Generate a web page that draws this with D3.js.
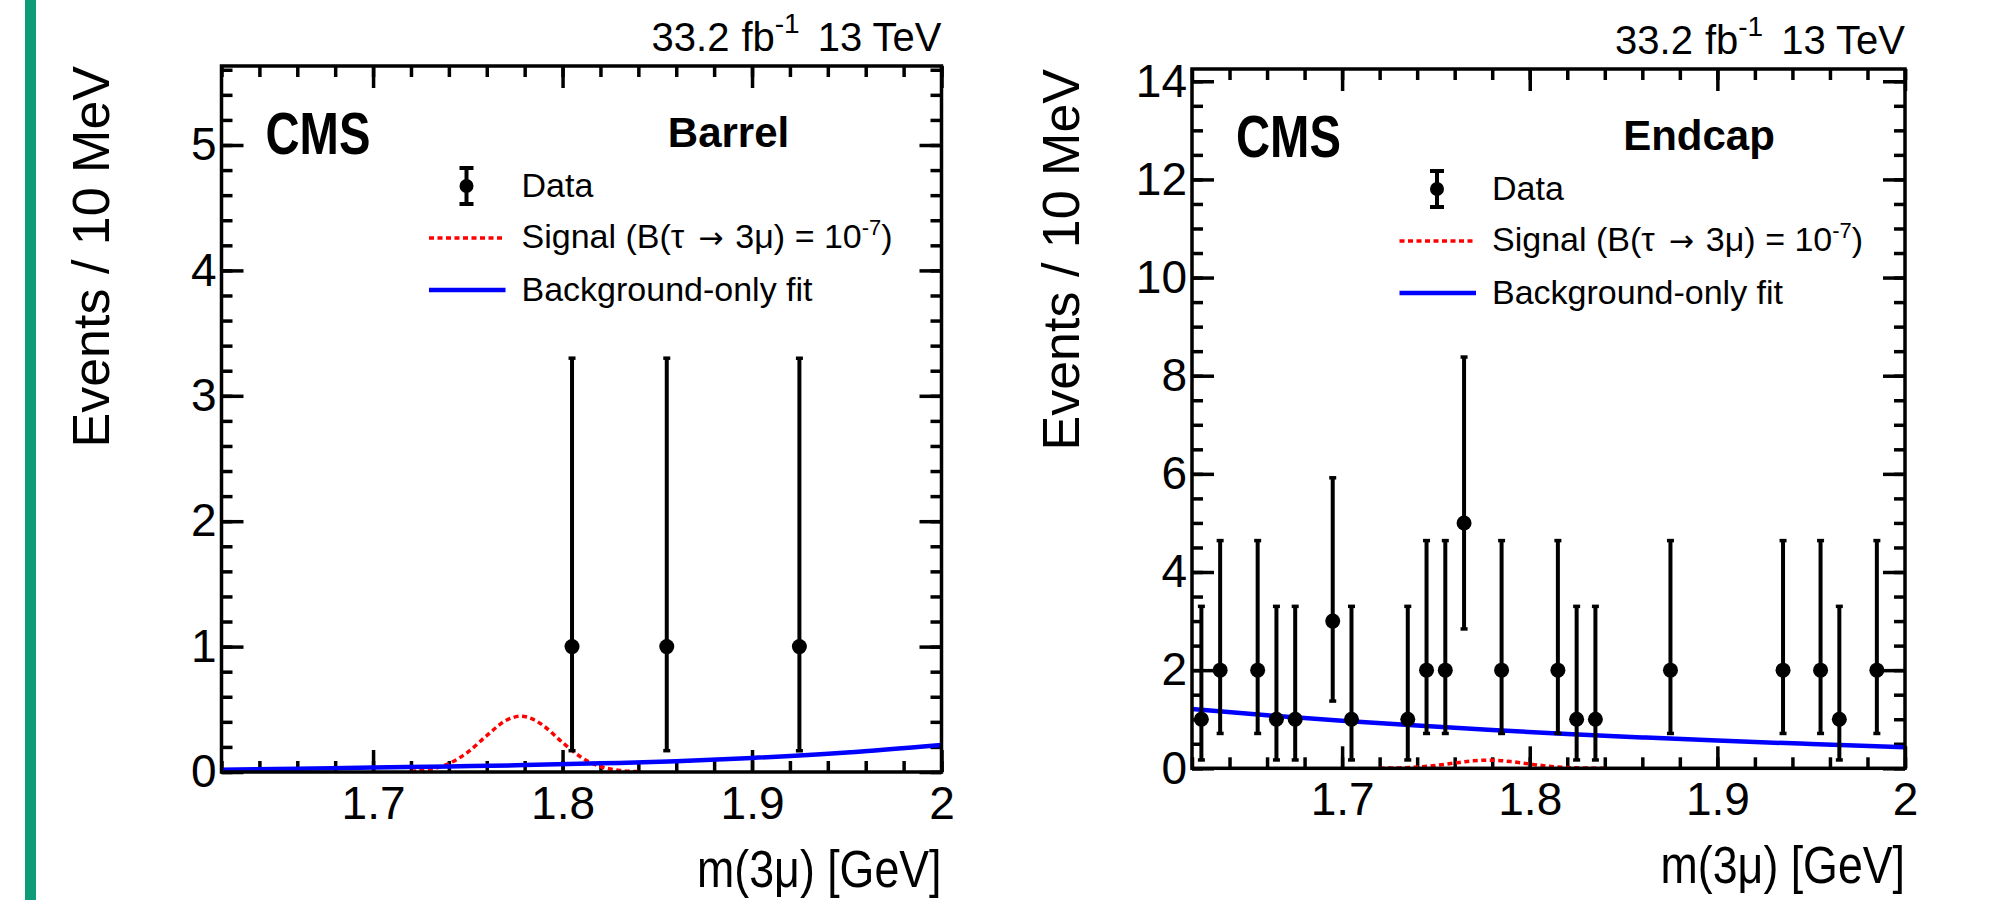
<!DOCTYPE html>
<html lang="en">
<head>
<meta charset="UTF-8">
<title>tau to 3mu mass fits</title>
<style>
  body { margin: 0; background: #fff; }
  text { font-family: "Liberation Sans", Arial, Helvetica, sans-serif; fill: #000; }
</style>
</head>
<body>
<div id="chart"></div>
<script src="https://d3js.org/d3.v7.min.js"></script>
<script>
// ---- data ----
const xDomain = [1.62, 2.0];
const xTicks = [1.7, 1.8, 1.9, 2.0];
const xTickLabels = ["1.7", "1.8", "1.9", "2"];

const barrelYTicks = [0, 1, 2, 3, 4, 5];
const endcapYTicks = [0, 2, 4, 6, 8, 10, 12, 14];

// barrel data points
const barrelMass = [1.805, 1.855, 1.925];
const barrelCounts = [1, 1, 1];
const barrelLow = [0.17, 0.17, 0.17];
const barrelHigh = [3.3, 3.3, 3.3];

// endcap data points
const endcapMass = [1.625, 1.635, 1.655, 1.665, 1.675, 1.695, 1.705, 1.735, 1.745, 1.755,
                    1.765, 1.785, 1.815, 1.825, 1.835, 1.875, 1.935, 1.955, 1.965, 1.985];
const endcapCounts = [1, 2, 2, 1, 1, 3, 1, 1, 2, 2, 5, 2, 2, 1, 1, 2, 2, 2, 1, 2];
const endcapLow  = [0.17, 0.71, 0.71, 0.17, 0.17, 1.37, 0.17, 0.17, 0.71, 0.71,
                    2.84, 0.71, 0.71, 0.17, 0.17, 0.71, 0.71, 0.71, 0.17, 0.71];
const endcapHigh = [3.3, 4.64, 4.64, 3.3, 3.3, 5.92, 3.3, 3.3, 4.64, 4.64,
                    8.38, 4.64, 4.64, 3.3, 3.3, 4.64, 4.64, 4.64, 3.3, 4.64];

// signal shape (B = 1e-7)
const signalMass   = [1.72, 1.73, 1.74, 1.75, 1.76, 1.77, 1.778, 1.785, 1.79, 1.80, 1.81, 1.82, 1.83, 1.84];
const barrelSignal = [0.005, 0.021, 0.067, 0.159, 0.29, 0.41, 0.445, 0.417, 0.368, 0.235, 0.116, 0.044, 0.013, 0.003];
const endcapSignal = [0.002, 0.008, 0.025, 0.059, 0.108, 0.152, 0.165, 0.155, 0.137, 0.087, 0.043, 0.016, 0.005, 0.001];

// background-only fit
const bkgMass   = [1.62, 1.66, 1.70, 1.74, 1.78, 1.82, 1.86, 1.90, 1.95, 2.0];
const barrelBkg = [0.018, 0.025, 0.035, 0.044, 0.055, 0.069, 0.086, 0.112, 0.155, 0.215];
const endcapBkg = [1.21, 1.08, 0.97, 0.87, 0.78, 0.70, 0.63, 0.565, 0.495, 0.43];

const lumiText = ["33.2", "fb", "-1", "13 TeV"];
const legendLabels = ["Data", "Signal (B(\u03c4", "\u2192", "3\u03bc) = 10", "Background-only fit"];

// ---- drawing ----
const width = 1990, height = 900;
const svg = d3.select("#chart").append("svg")
    .attr("width", width).attr("height", height);

svg.append("rect").attr("x", 25).attr("y", 0).attr("width", 11).attr("height", height)
    .attr("fill", "#0e9b77");

const panels = [
  { id: "barrel", title: "Barrel", left: 221.5, right: 941.5, top: 66, bottom: 772,
    yMax: 5.63, yTicks: barrelYTicks, yMinor: 0.2,
    mass: barrelMass, counts: barrelCounts, low: barrelLow, high: barrelHigh,
    signal: barrelSignal, bkg: barrelBkg },
  { id: "endcap", title: "Endcap", left: 1192, right: 1905, top: 69, bottom: 768.3,
    yMax: 14.25, yTicks: endcapYTicks, yMinor: 0.5,
    mass: endcapMass, counts: endcapCounts, low: endcapLow, high: endcapHigh,
    signal: endcapSignal, bkg: endcapBkg }
];

panels.forEach(drawPanel);

function drawPanel(p) {
  const x = d3.scaleLinear().domain(xDomain).range([p.left, p.right]);
  const y = d3.scaleLinear().domain([0, p.yMax]).range([p.bottom, p.top]);
  const g = svg.append("g");

  const xMinor = d3.range(1.62, 2.0001, 0.02).map(v => +v.toFixed(2));
  const yMinor = d3.range(0, p.yMax, p.yMinor).map(v => +v.toFixed(2));
  const fmt = d => xTickLabels[xTicks.indexOf(d)];

  // axes, ticks pointing inwards (ROOT style), mirrored on top and right
  const axes = [
    [d3.axisBottom(x).tickValues(xTicks).tickSize(-22).tickPadding(14).tickFormat(fmt), `translate(0,${p.bottom})`],
    [d3.axisBottom(x).tickValues(xMinor).tickSize(-11).tickFormat(""), `translate(0,${p.bottom})`],
    [d3.axisTop(x).tickValues(xTicks).tickSize(-22).tickFormat(""), `translate(0,${p.top})`],
    [d3.axisTop(x).tickValues(xMinor).tickSize(-11).tickFormat(""), `translate(0,${p.top})`],
    [d3.axisLeft(y).tickValues(p.yTicks).tickSize(-22).tickPadding(5).tickFormat(d3.format("d")), `translate(${p.left},0)`],
    [d3.axisLeft(y).tickValues(yMinor).tickSize(-11).tickFormat(""), `translate(${p.left},0)`],
    [d3.axisRight(y).tickValues(p.yTicks).tickSize(-22).tickFormat(""), `translate(${p.right},0)`],
    [d3.axisRight(y).tickValues(yMinor).tickSize(-11).tickFormat(""), `translate(${p.right},0)`]
  ];
  axes.forEach(([ax, tr]) => {
    const a = g.append("g").attr("transform", tr).call(ax);
    a.select(".domain").remove();
    a.selectAll("line").attr("stroke", "#000").attr("stroke-width", 3.5);
    a.selectAll("text").style("font-size", "46px").attr("fill", "#000")
      .style("font-family", '"Liberation Sans", Arial, sans-serif');
  });

  // clip to frame
  const clipId = "clip-" + p.id;
  svg.append("clipPath").attr("id", clipId).append("rect")
    .attr("x", p.left).attr("y", p.top)
    .attr("width", p.right - p.left).attr("height", p.bottom - p.top);
  const plot = g.append("g").attr("clip-path", `url(#${clipId})`);

  const line = d3.line().x(d => x(d[0])).y(d => y(d[1])).curve(d3.curveMonotoneX);

  plot.append("path").datum(signalMass.map((m, i) => [m, p.signal[i]]))
    .attr("d", line).attr("fill", "none").attr("stroke", "#ff0000")
    .attr("stroke-width", 3.5).attr("stroke-dasharray", "5,3.5");

  plot.append("path").datum(bkgMass.map((m, i) => [m, p.bkg[i]]))
    .attr("d", line).attr("fill", "none").attr("stroke", "#0000ff")
    .attr("stroke-width", 4.5);

  const pts = p.mass.map((m, i) => ({ m, n: p.counts[i], lo: p.low[i], hi: p.high[i] }));
  const pg = plot.selectAll("g.pt").data(pts).join("g").attr("class", "pt");
  pg.append("line").attr("x1", d => x(d.m)).attr("x2", d => x(d.m))
    .attr("y1", d => y(d.lo)).attr("y2", d => y(d.hi))
    .attr("stroke", "#000").attr("stroke-width", 4);
  ["lo", "hi"].forEach(k => {
    pg.append("line").attr("x1", d => x(d.m) - 3.5).attr("x2", d => x(d.m) + 3.5)
      .attr("y1", d => y(d[k])).attr("y2", d => y(d[k]))
      .attr("stroke", "#000").attr("stroke-width", 3.5);
  });
  pg.append("circle").attr("cx", d => x(d.m)).attr("cy", d => y(d.n)).attr("r", 7.5).attr("fill", "#000");

  // frame
  g.append("rect").attr("x", p.left).attr("y", p.top)
    .attr("width", p.right - p.left).attr("height", p.bottom - p.top)
    .attr("fill", "none").attr("stroke", "#000").attr("stroke-width", 3.5);

  // texts
  const lumi = g.append("text").attr("x", p.right).attr("y", p.top - 15)
    .attr("text-anchor", "end").style("font-size", "40px");
  lumi.append("tspan").text(lumiText[0]);
  lumi.append("tspan").attr("dx", 12).text(lumiText[1]);
  lumi.append("tspan").attr("dy", -18).style("font-size", "28px").text(lumiText[2]);
  lumi.append("tspan").attr("dy", 18).attr("dx", 18).text(lumiText[3]);

  g.append("text").attr("transform", `translate(${p.left + 44},${p.top + 88}) scale(0.8,1)`)
    .style("font-size", "59px").style("font-weight", "bold").text("CMS");
  g.append("text").attr("x", p.left + 507).attr("y", p.top + 81).attr("text-anchor", "middle")
    .style("font-size", "42px").style("font-weight", "bold").text(p.title);

  g.append("text").attr("transform", `translate(${p.left - 113},${p.top}) rotate(-90)`)
    .attr("text-anchor", "end").style("font-size", "52px").text("Events / 10 MeV");
  g.append("text").attr("transform", `translate(${p.right},${p.bottom + 115}) scale(0.86,1)`)
    .attr("text-anchor", "end").style("font-size", "52px").text("m(3\u03bc) [GeV]");

  // legend
  const lx = p.left + 207.5, lx2 = p.left + 284, mx = p.left + 245, tx = p.left + 300;
  const base = [p.top + 131, p.top + 182, p.top + 235];
  const lg = g.append("g");
  lg.append("line").attr("x1", mx).attr("x2", mx).attr("y1", base[0] - 29).attr("y2", base[0] + 7)
    .attr("stroke", "#000").attr("stroke-width", 4);
  [base[0] - 29, base[0] + 7].forEach(yy => lg.append("line").attr("x1", mx - 7).attr("x2", mx + 7)
    .attr("y1", yy).attr("y2", yy).attr("stroke", "#000").attr("stroke-width", 4));
  lg.append("circle").attr("cx", mx).attr("cy", base[0] - 11).attr("r", 7).attr("fill", "#000");
  lg.append("line").attr("x1", lx).attr("x2", lx2).attr("y1", base[1] - 10).attr("y2", base[1] - 10)
    .attr("stroke", "#ff0000").attr("stroke-width", 3.5).attr("stroke-dasharray", "5,3.5");
  lg.append("line").attr("x1", lx).attr("x2", lx2).attr("y1", base[2] - 11).attr("y2", base[2] - 11)
    .attr("stroke", "#0000ff").attr("stroke-width", 4.5);

  lg.append("text").attr("x", tx).attr("y", base[0]).style("font-size", "34px").text(legendLabels[0]);
  const sig = lg.append("text").attr("x", tx).attr("y", base[1]).style("font-size", "34px");
  sig.append("tspan").text(legendLabels[1]);
  sig.append("tspan").attr("dx", 14).style("font-family", '"DejaVu Sans", sans-serif').style("font-size", "30px")
    .text(legendLabels[2]);
  sig.append("tspan").attr("dx", 12).text(legendLabels[3]);
  sig.append("tspan").attr("dy", -13).style("font-size", "22px").text("-7");
  sig.append("tspan").attr("dy", 13).text(")");
  lg.append("text").attr("x", tx).attr("y", base[2]).style("font-size", "34px").text(legendLabels[4]);
}
</script>
</body>
</html>
